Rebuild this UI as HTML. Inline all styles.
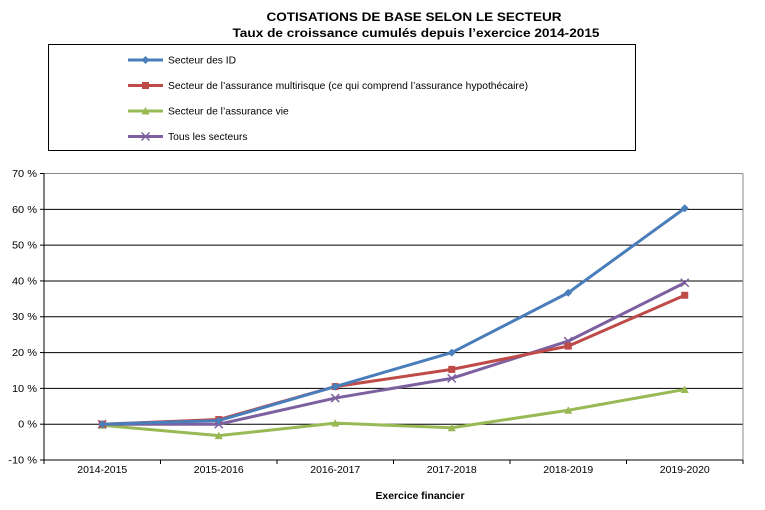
<!DOCTYPE html>
<html><head><meta charset="utf-8"><style>
body{margin:0;background:#fff;font-family:"Liberation Sans",Arial,sans-serif}
</style></head><body>
<svg width="765" height="505" viewBox="0 0 765 505" xmlns="http://www.w3.org/2000/svg" font-family="Liberation Sans, Arial, sans-serif">
<text x="414" y="21" text-anchor="middle" font-size="12" font-weight="bold" textLength="295" lengthAdjust="spacingAndGlyphs">COTISATIONS DE BASE SELON LE SECTEUR</text>
<text x="416" y="37" text-anchor="middle" font-size="12" font-weight="bold" textLength="367" lengthAdjust="spacingAndGlyphs">Taux de croissance cumulés depuis l’exercice 2014-2015</text>
<rect x="48.5" y="44.5" width="587" height="106" fill="#fff" stroke="#000"/>
<g id="legend"></g>
<g id="grid"></g>
<g id="series"></g>
<text x="420" y="499" text-anchor="middle" font-size="10" font-weight="bold" textLength="89" lengthAdjust="spacingAndGlyphs">Exercice financier</text>
</svg>
<script>
const categories=["2014-2015","2015-2016","2016-2017","2017-2018","2018-2019","2019-2020"];
const yTicks=[-10,0,10,20,30,40,50,60,70];
const seriesNames=["Secteur des ID","Secteur de l’assurance multirisque (ce qui comprend l’assurance hypothécaire)","Secteur de l’assurance vie","Tous les secteurs"];
const idValues=[0,1,10.5,20,36.7,60.3];
const multiValues=[0,1.3,10.5,15.3,21.8,36];
const vieValues=[-0.3,-3.2,0.3,-1,3.9,9.7];
const tousValues=[0,0,7.3,12.8,23.2,39.5];
const colors=["#4a7ebb","#be4b48","#98b954","#7d60a0"];
const markers=["diamond","square","triangle","x"];
const NS="http://www.w3.org/2000/svg";
const L=44,R=743,T=173.5,B=460;
const x=i=>L+(R-L)/categories.length*(i+0.5);
const y=v=>B-(v+10)/80*(B-T);
function mk(tag,a,parent){const e=document.createElementNS(NS,tag);for(const k in a)e.setAttribute(k,a[k]);parent.appendChild(e);return e;}
const grid=document.getElementById('grid');
yTicks.forEach(t=>{
 const g=mk('line',{x1:L,x2:R,y1:y(t),y2:y(t),stroke:t===70?'#888':'#000','stroke-width':1},grid);
 
 
 const tk=mk('line',{x1:L-4,x2:L,y1:y(t),y2:y(t),stroke:'#000'},grid);
 
 
 const lb=mk('text',{x:L-7,y:y(t)+3.5,'text-anchor':'end','font-size':10,'transform':`translate(${L-7},0) scale(1.1,1) translate(${-(L-7)},0)`},grid);
 lb.textContent=t+' %';
 
 
});
const ax=mk('line',{x1:L,x2:L,y1:T,y2:B,stroke:'#000'},grid);


const rb=mk('line',{x1:R,x2:R,y1:T,y2:B,stroke:'#888'},grid);


for(let i=0;i<=categories.length;i++){
 const xx=L+(R-L)/categories.length*i;
 const tk=mk('line',{x1:xx,x2:xx,y1:B,y2:B+4,stroke:'#000'},grid);
 
 
}
categories.forEach((c,i)=>{
 const lb=mk('text',{x:x(i),y:B+13,'text-anchor':'middle','font-size':10,textLength:50,lengthAdjust:'spacingAndGlyphs'},grid);
 lb.textContent=c;
 
 
});
function marker(type,cx,cy,col,parent){
 let e;
 if(type==='diamond')e=mk('polygon',{points:`${cx},${cy-4} ${cx+4},${cy} ${cx},${cy+4} ${cx-4},${cy}`,fill:col},parent);
 else if(type==='square')e=mk('rect',{x:cx-3.5,y:cy-3.5,width:7,height:7,fill:col},parent);
 else if(type==='triangle')e=mk('polygon',{points:`${cx},${cy-4} ${cx+4},${cy+3.5} ${cx-4},${cy+3.5}`,fill:col},parent);
 else e=mk('path',{d:`M${cx-4},${cy-4}L${cx+4},${cy+4}M${cx-4},${cy+4}L${cx+4},${cy-4}`,stroke:col,'stroke-width':1.5},parent);
 return e;
}
const data=[idValues,multiValues,vieValues,tousValues];
const keys=['id','multirisque','vie','tous'];
const sg=document.getElementById('series');
[2,3,1,0].forEach(s=>{
 const vals=data[s];
 const g=mk('g',{},sg);
 
 
 const pl=mk('polyline',{points:vals.map((v,i)=>x(i)+','+y(v)).join(' '),fill:'none',stroke:colors[s],'stroke-width':3,'stroke-linejoin':'round'},g);
 
 
 vals.forEach((v,i)=>{
  const m=marker(markers[s],x(i),y(v),colors[s],g);
  
  
 });
});
const lg=document.getElementById('legend');
seriesNames.forEach((n,s)=>{
 const yy=60+s*25.5;
 const g=mk('g',{},lg);
 
 
 mk('line',{x1:128,x2:163,y1:yy,y2:yy,stroke:colors[s],'stroke-width':3},g);
 marker(markers[s],145.5,yy,colors[s],g);
 const t=mk('text',{x:168,y:yy+3.5,'font-size':10.3},g);
 t.textContent=n;
});
</script>
</body></html>
